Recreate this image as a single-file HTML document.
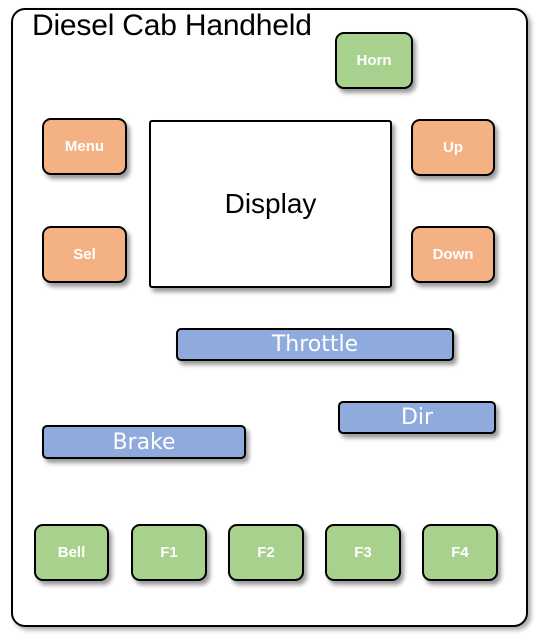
<!DOCTYPE html>
<html><head><meta charset="utf-8"><style>
body{margin:0;width:537px;height:643px;background:#fff;position:relative;overflow:hidden;font-family:"Liberation Sans",sans-serif}
.frame{position:absolute;left:11px;top:8px;width:513px;height:615px;border:2px solid #000;border-radius:14px;box-shadow:3px 3px 5px rgba(0,0,0,.35)}
.title{position:absolute;left:32px;top:9px;font-size:30px;color:#000;letter-spacing:-0.2px}
.b{position:absolute;box-sizing:border-box;border:2px solid #000;border-radius:9px;box-shadow:3px 4px 4px rgba(0,0,0,.4);color:#fff;display:flex;align-items:center;justify-content:center;font-family:"Liberation Sans",sans-serif;font-size:15px;font-weight:bold}
.o{background:#f4b183}.g{background:#a9d18e}.bl{background:#8faadc;border-radius:5px;font-size:22px;font-weight:normal;font-family:"DejaVu Sans",sans-serif}
.disp{position:absolute;left:149px;top:120px;width:243px;height:168px;box-sizing:border-box;border:2px solid #000;border-radius:3px;box-shadow:3px 4px 4px rgba(0,0,0,.4);display:flex;align-items:center;justify-content:center;font-size:28px}
</style></head><body>
<div class="frame"></div>
<div class="title">Diesel Cab Handheld</div>
<div class="b g" style="left:335px;top:32px;width:78px;height:57px">Horn</div>
<div class="b o" style="left:42px;top:118px;width:85px;height:57px">Menu</div>
<div class="disp">Display</div>
<div class="b o" style="left:411px;top:119px;width:84px;height:57px">Up</div>
<div class="b o" style="left:42px;top:226px;width:85px;height:57px">Sel</div>
<div class="b o" style="left:411px;top:226px;width:84px;height:57px">Down</div>
<div class="b bl" style="left:176px;top:328px;width:278px;height:33px">Throttle</div>
<div class="b bl" style="left:338px;top:401px;width:158px;height:33px">Dir</div>
<div class="b bl" style="left:42px;top:425px;width:204px;height:34px">Brake</div>
<div class="b g" style="left:34px;top:524px;width:75px;height:57px">Bell</div>
<div class="b g" style="left:131px;top:524px;width:76px;height:57px">F1</div>
<div class="b g" style="left:228px;top:524px;width:76px;height:57px">F2</div>
<div class="b g" style="left:325px;top:524px;width:76px;height:57px">F3</div>
<div class="b g" style="left:422px;top:524px;width:76px;height:57px">F4</div>
</body></html>
